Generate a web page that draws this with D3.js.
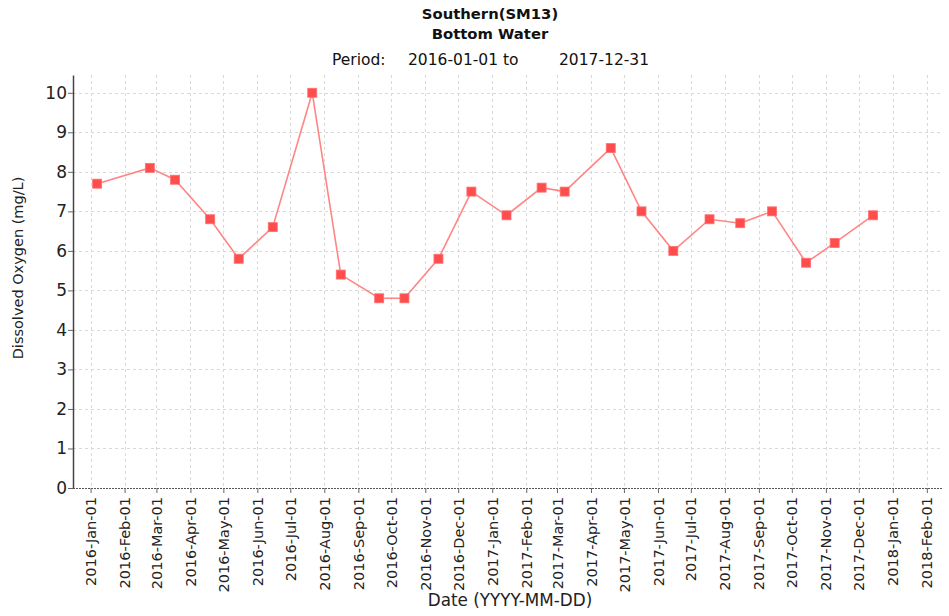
<!DOCTYPE html>
<html>
<head>
<meta charset="utf-8">
<script src="https://cdn.jsdelivr.net/npm/d3@7"></script>
<style>
  html, body { margin: 0; padding: 0; background: #fff; }
  svg { display: block; font-family: "DejaVu Sans", Verdana, sans-serif; }
</style>
</head>
<body>
<svg id="chart" width="949" height="616"></svg>
<script>
// Sample dates and bottom-water dissolved oxygen (mg/L)
const sampleDates = [
  "2016-01-07", "2016-02-24", "2016-03-18", "2016-04-19", "2016-05-15", "2016-06-15",
  "2016-07-21", "2016-08-16", "2016-09-20", "2016-10-13", "2016-11-13", "2016-12-13",
  "2017-01-14", "2017-02-15", "2017-03-08", "2017-04-19", "2017-05-17", "2017-06-15",
  "2017-07-18", "2017-08-15", "2017-09-13", "2017-10-14", "2017-11-09", "2017-12-14"
];
const oxygenValues = [
  7.7, 8.1, 7.8, 6.8, 5.8, 6.6,
  10.0, 5.4, 4.8, 4.8, 5.8, 7.5,
  6.9, 7.6, 7.5, 8.6, 7.0, 6.0,
  6.8, 6.7, 7.0, 5.7, 6.2, 6.9
];
const yTicks = [0, 1, 2, 3, 4, 5, 6, 7, 8, 9, 10];
const titleLines = ["Southern(SM13)", "Bottom Water"];
const periodStart = "2016-01-01";
const periodEnd = "2017-12-31";

const parse = d3.utcParse("%Y-%m-%d");
const data = sampleDates.map((d, i) => ({ date: parse(d), value: oxygenValues[i] }));
const xTickDates = d3.utcMonth.range(parse("2016-01-01"), parse("2018-02-02"));

const svg = d3.select("#chart");
const plotLeft = 73, plotRight = 940, plotTop = 75, plotBottom = 488;

const x = d3.scaleUtc()
  .domain([parse("2015-12-16"), parse("2018-02-13")])
  .range([plotLeft, plotRight]);
const y = d3.scaleLinear().domain([0, 10.45]).range([plotBottom, plotTop]);

// grid
const grid = svg.append("g").attr("stroke", "#d9d9d9").attr("stroke-width", 1)
  .attr("stroke-dasharray", "3,3");
grid.selectAll("line.gx").data(xTickDates).join("line")
  .attr("x1", d => Math.round(x(d)) + 0.5).attr("x2", d => Math.round(x(d)) + 0.5)
  .attr("y1", plotTop).attr("y2", plotBottom);
grid.selectAll("line.gy").data(yTicks.slice(1)).join("line")
  .attr("x1", plotLeft).attr("x2", plotRight)
  .attr("y1", d => Math.round(y(d)) + 0.5).attr("y2", d => Math.round(y(d)) + 0.5);

// x axis
const xAxis = svg.append("g").attr("transform", `translate(0,${plotBottom})`)
  .call(d3.axisBottom(x).tickValues(xTickDates).tickFormat(d3.utcFormat("%Y-%b-%d"))
    .tickSize(5).tickSizeOuter(0));
xAxis.select(".domain").attr("stroke", "#555").attr("stroke-dasharray", "2,1")
  .attr("d", `M${plotLeft},0.5H942`);
xAxis.selectAll(".tick line").attr("stroke", "#666");
xAxis.selectAll(".tick text")
  .attr("transform", "rotate(-90)")
  .attr("text-anchor", "end")
  .attr("x", -9).attr("y", 0).attr("dy", "0.35em")
  .attr("font-size", 14.5).attr("fill", "#222")
  .attr("font-family", "DejaVu Sans, sans-serif");

// y axis
const yAxis = svg.append("g").attr("transform", `translate(${plotLeft},0)`)
  .call(d3.axisLeft(y).tickValues(yTicks).tickSize(5).tickSizeOuter(0));
yAxis.select(".domain").attr("stroke", "#444").attr("stroke-width", 1.5);
yAxis.selectAll(".tick line").attr("stroke", "#666");
yAxis.selectAll(".tick text").attr("font-size", 17).attr("fill", "#222")
  .attr("x", -6).attr("font-family", "DejaVu Sans, sans-serif");

// series line and markers
const line = d3.line().x(d => x(d.date)).y(d => y(d.value));
svg.append("path").datum(data)
  .attr("fill", "none").attr("stroke", "#ff8585").attr("stroke-width", 1.6)
  .attr("d", line);
const ms = 9;
svg.selectAll("rect.pt").data(data).join("rect")
  .attr("x", d => x(d.date) - ms / 2).attr("y", d => y(d.value) - ms / 2)
  .attr("width", ms).attr("height", ms)
  .attr("fill", "#ff4d4d").attr("stroke", "#ff7070").attr("stroke-width", 0.8);

// titles
svg.append("text").attr("x", 490).attr("y", 19).attr("text-anchor", "middle")
  .attr("font-weight", "bold").attr("font-size", 14.8).attr("fill", "#111")
  .text(titleLines[0]);
svg.append("text").attr("x", 490).attr("y", 39).attr("text-anchor", "middle")
  .attr("font-weight", "bold").attr("font-size", 14.8).attr("fill", "#111")
  .text(titleLines[1]);
const period = svg.append("g").attr("font-size", 15.5).attr("fill", "#111");
period.append("text").attr("x", 332).attr("y", 65).text("Period:");
period.append("text").attr("x", 408).attr("y", 65).text(periodStart + " to");
period.append("text").attr("x", 559).attr("y", 65).text(periodEnd);

// axis titles
svg.append("text").attr("transform", "translate(23,268) rotate(-90)")
  .attr("text-anchor", "middle").attr("font-size", 14.5).attr("fill", "#222")
  .text("Dissolved Oxygen (mg/L)");
svg.append("text").attr("x", 510).attr("y", 606).attr("text-anchor", "middle")
  .attr("font-size", 16.8).attr("fill", "#222")
  .text("Date (YYYY-MM-DD)");
</script>
</body>
</html>
